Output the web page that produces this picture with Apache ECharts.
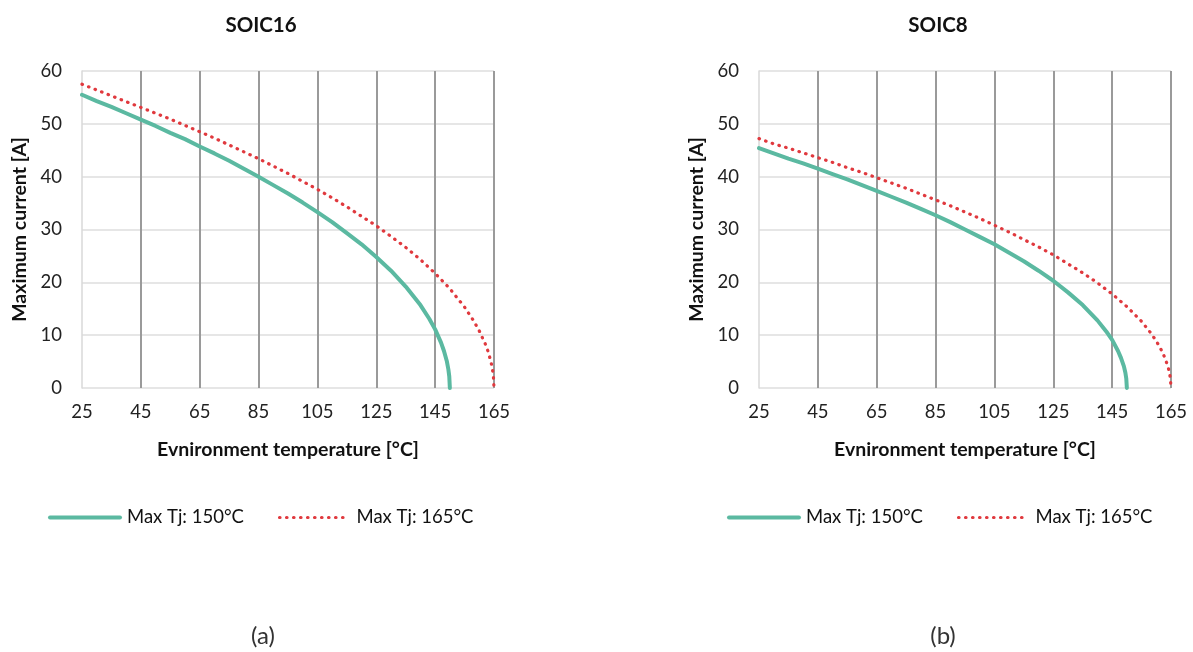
<!DOCTYPE html>
<html>
<head>
<meta charset="utf-8">
<script src="https://cdn.jsdelivr.net/npm/echarts@6/dist/echarts.min.js"></script>
<style>
  html, body { margin: 0; padding: 0; background: #fff; }
  #chart { width: 1193px; height: 652px; }
</style>
</head>
<body>
<div id="chart"></div>
<script>
// temperatures [°C] at which the curves were read
var temps150 = [25, 30, 35, 40, 45, 50, 55, 60, 65, 70, 75, 80, 85, 90, 95, 100, 105, 110, 115, 120, 125, 130, 135, 140, 143, 145, 147, 148, 149, 149.5, 149.8, 150];
var temps165 = [25, 30, 35, 40, 45, 50, 55, 60, 65, 70, 75, 80, 85, 90, 95, 100, 105, 110, 115, 120, 125, 130, 135, 140, 145, 150, 155, 158, 160, 162, 163, 164, 164.5, 164.8, 165];

// SOIC16 maximum current [A]
var soic16Tj150 = [55.5, 54.3, 53.2, 52.0, 50.8, 49.6, 48.3, 47.1, 45.7, 44.4, 43.0, 41.5, 40.0, 38.4, 36.8, 35.1, 33.3, 31.4, 29.3, 27.2, 24.8, 22.2, 19.2, 15.7, 13.1, 11.1, 8.6, 7.0, 5.0, 3.5, 2.2, 0];
var soic16Tj165 = [57.5, 56.4, 55.3, 54.2, 53.1, 52.0, 50.9, 49.7, 48.5, 47.3, 46.0, 44.7, 43.4, 42.0, 40.6, 39.1, 37.6, 36.0, 34.3, 32.5, 30.7, 28.7, 26.6, 24.3, 21.7, 18.8, 15.3, 12.8, 10.8, 8.4, 6.9, 4.9, 3.4, 2.2, 0];

// SOIC8 maximum current [A]
var soic8Tj150 = [45.4, 44.4, 43.4, 42.5, 41.5, 40.5, 39.5, 38.4, 37.3, 36.2, 35.1, 33.9, 32.7, 31.4, 30.0, 28.6, 27.2, 25.6, 24.0, 22.2, 20.3, 18.1, 15.7, 12.8, 10.7, 9.1, 7.0, 5.7, 4.1, 2.9, 1.8, 0];
var soic8Tj165 = [47.2, 46.2, 45.4, 44.5, 43.6, 42.7, 41.7, 40.8, 39.8, 38.8, 37.8, 36.7, 35.6, 34.5, 33.3, 32.1, 30.8, 29.5, 28.1, 26.7, 25.2, 23.5, 21.8, 19.9, 17.8, 15.4, 12.6, 10.5, 8.9, 6.9, 5.6, 4.0, 2.8, 1.8, 0];

var xTicks = [25, 45, 65, 85, 105, 125, 145, 165];
var yTicks = [0, 10, 20, 30, 40, 50, 60];
var chartTitles = ['SOIC16', 'SOIC8'];
var captions = ['(a)', '(b)'];
var seriesNames = ['Max Tj: 150°C', 'Max Tj: 165°C'];

var FONT = 'Lato';
var TEAL = '#5bb9a1';
var RED = '#e0393e';

var solidStyle = { color: TEAL, width: 4, cap: 'round' };
var dottedStyle = { color: RED, width: 3.2, type: [0.5, 6.5], cap: 'round' };

function pairs(xs, ys) {
	var out = [];
	for (var i = 0; i < xs.length; i++) {
		out.push([xs[i], ys[i]]);
	}
	return out;
}

function makeXAxis(idx) {
	return {
		type: 'value',
		gridIndex: idx,
		min: xTicks[0],
		max: xTicks[xTicks.length - 1],
		interval: xTicks[1] - xTicks[0],
		name: 'Evnironment temperature [°C]',
		nameLocation: 'middle',
		nameGap: 52,
		nameTextStyle: { fontFamily: FONT, fontSize: 19.5, fontWeight: 'bold', color: '#111' },
		axisLine: { show: false },
		axisTick: { show: false },
		axisLabel: { fontFamily: FONT, fontSize: 18.5, color: '#222', margin: 15 },
		splitLine: { show: true, showMinLine: false, lineStyle: { color: '#9a9a9a', width: 2 } }
	};
}

function makeYAxis(idx) {
	return {
		type: 'value',
		gridIndex: idx,
		min: yTicks[0],
		max: yTicks[yTicks.length - 1],
		interval: yTicks[1] - yTicks[0],
		name: 'Maximum current [A]',
		nameLocation: 'middle',
		nameGap: 52,
		nameTextStyle: { fontFamily: FONT, fontSize: 19.5, fontWeight: 'bold', color: '#111' },
		axisLine: { show: true, lineStyle: { color: '#d9d9d9', width: 1.5 } },
		axisTick: { show: false },
		axisLabel: { fontFamily: FONT, fontSize: 18.5, color: '#222', margin: 20 },
		splitLine: { show: true, lineStyle: { color: '#dedede', width: 1.5 } }
	};
}

function makeSeries(idx, xs, ys, name, dotted) {
	return {
		name: name,
		type: 'line',
		xAxisIndex: idx,
		yAxisIndex: idx,
		data: pairs(xs, ys),
		symbol: 'none',
		smooth: false,
		color: dotted ? RED : TEAL,
		lineStyle: dotted ? dottedStyle : solidStyle,
		z: dotted ? 3 : 2
	};
}

function makeLegend(left) {
	return {
		data: [
			{ name: seriesNames[0], lineStyle: solidStyle },
			{ name: seriesNames[1], lineStyle: dottedStyle }
		],
		left: left, top: 503,
		itemWidth: 70, itemHeight: 14, itemGap: 34,
		itemStyle: { opacity: 0 },
		textStyle: { fontFamily: FONT, fontSize: 18.5, color: '#111', padding: [0, 0, 0, 2] }
	};
}

var chart = echarts.init(document.getElementById('chart'), null, { renderer: 'canvas' });

var option = {
	animation: false,
	backgroundColor: '#fff',
	title: [
		{ text: chartTitles[0], left: 256, top: 10, textAlign: 'center', textStyle: { fontFamily: FONT, fontSize: 20.5, fontWeight: 'bold', color: '#111' } },
		{ text: chartTitles[1], left: 933, top: 10, textAlign: 'center', textStyle: { fontFamily: FONT, fontSize: 20.5, fontWeight: 'bold', color: '#111' } },
		{ text: captions[0], left: 258, top: 619, textAlign: 'center', textStyle: { fontFamily: FONT, fontSize: 24, fontWeight: 'normal', color: '#333' } },
		{ text: captions[1], left: 938, top: 619, textAlign: 'center', textStyle: { fontFamily: FONT, fontSize: 24, fontWeight: 'normal', color: '#333' } }
	],
	grid: [
		{ left: 82, right: 699, top: 71, bottom: 264 },
		{ left: 759, right: 22, top: 71, bottom: 264 }
	],
	legend: [makeLegend(43), makeLegend(722)],
	xAxis: [makeXAxis(0), makeXAxis(1)],
	yAxis: [makeYAxis(0), makeYAxis(1)],
	series: [
		makeSeries(0, temps150, soic16Tj150, seriesNames[0], false),
		makeSeries(0, temps165, soic16Tj165, seriesNames[1], true),
		makeSeries(1, temps150, soic8Tj150, seriesNames[0], false),
		makeSeries(1, temps165, soic8Tj165, seriesNames[1], true)
	]
};

chart.setOption(option);
</script>
</body>
</html>
